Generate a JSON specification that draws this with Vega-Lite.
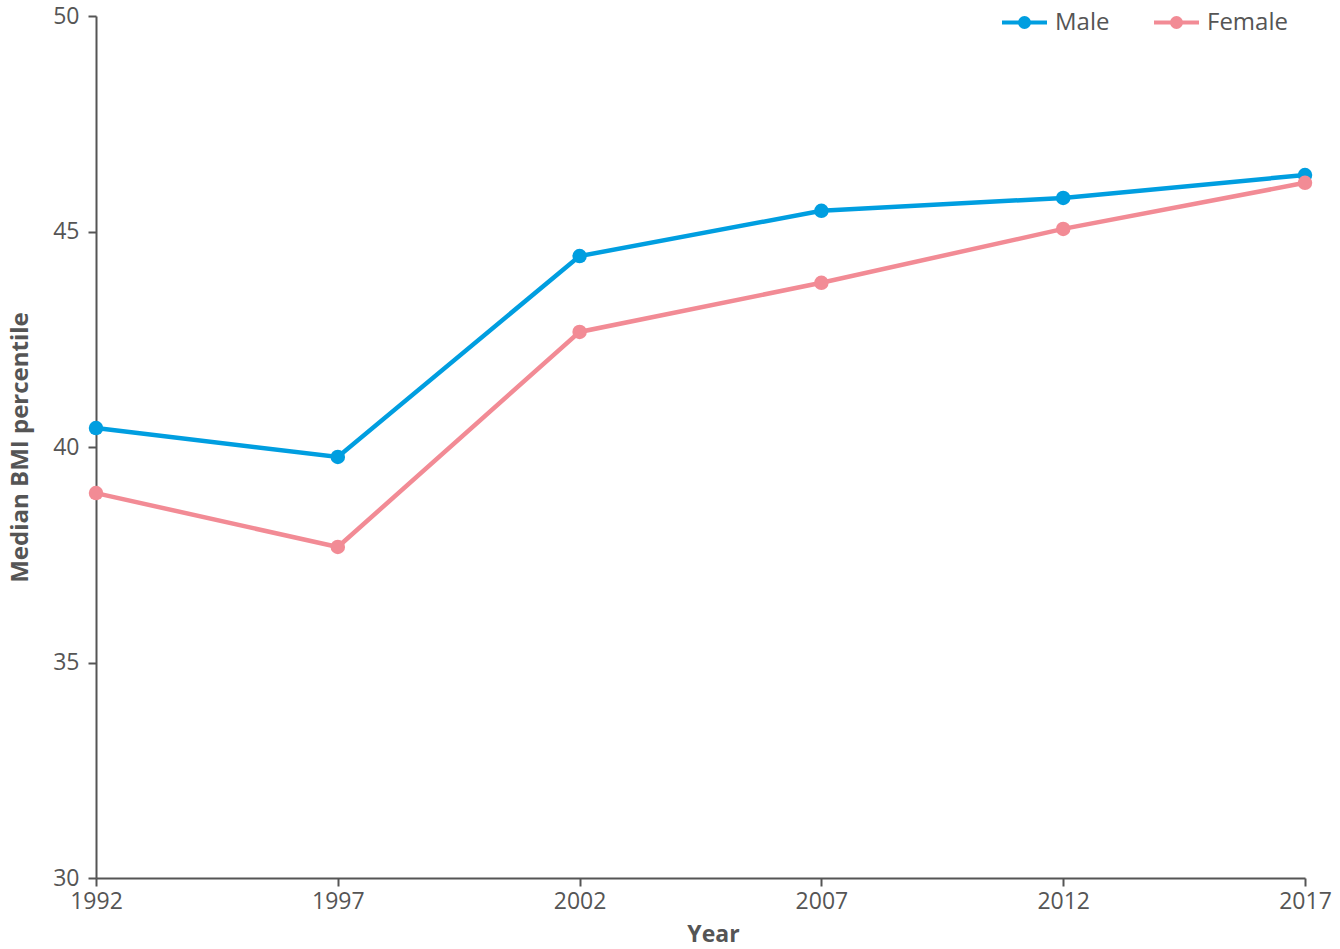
{
  "$schema": "https://vega.github.io/schema/vega-lite/v6.json",
  "width": 1209,
  "height": 862,
  "autosize": {"type": "none"},
  "padding": {"left": 96, "top": 16, "right": 35, "bottom": 71},
  "background": "white",
  "config": {
    "font": "Open Sans",
    "view": {"stroke": null},
    "axis": {"grid": false, "domainColor": "#555", "domainWidth": 2, "tickColor": "#555", "tickWidth": 2, "tickSize": 8, "labelColor": "#555", "labelFontSize": 23, "titleColor": "#555", "titleFontSize": 23, "titleFontWeight": "bold"}
  },
  "data": {
    "values": [
      {"year": 1992, "sex": "Male", "value": 40.44},
      {"year": 1997, "sex": "Male", "value": 39.77},
      {"year": 2002, "sex": "Male", "value": 44.43},
      {"year": 2007, "sex": "Male", "value": 45.48},
      {"year": 2012, "sex": "Male", "value": 45.78},
      {"year": 2017, "sex": "Male", "value": 46.31},
      {"year": 1992, "sex": "Female", "value": 38.93},
      {"year": 1997, "sex": "Female", "value": 37.68},
      {"year": 2002, "sex": "Female", "value": 42.67},
      {"year": 2007, "sex": "Female", "value": 43.81},
      {"year": 2012, "sex": "Female", "value": 45.06},
      {"year": 2017, "sex": "Female", "value": 46.13}
    ]
  },
  "mark": {"type": "line", "strokeWidth": 4.5, "point": {"size": 210, "filled": true, "opacity": 1}},
  "encoding": {
    "x": {"field": "year", "type": "quantitative", "title": "Year",
      "scale": {"domain": [1992, 2017], "nice": false, "zero": false},
      "axis": {"values": [1992, 1997, 2002, 2007, 2012, 2017], "format": "d", "labelFlush": false, "labelPadding": 4, "titlePadding": 10, "titleX": 617}},
    "y": {"field": "value", "type": "quantitative", "title": "Median BMI percentile",
      "scale": {"domain": [30, 50], "nice": false, "zero": false},
      "axis": {"values": [30, 35, 40, 45, 50], "labelPadding": 9, "titlePadding": 20, "titleFontSize": 24}},
    "color": {"field": "sex", "type": "nominal", "sort": ["Male", "Female"],
      "scale": {"domain": ["Male", "Female"], "range": ["#009EE0", "#F28B95"]},
      "legend": {"title": null, "orient": "none", "legendX": 904, "legendY": -18, "direction": "horizontal",
        "symbolType": "M-1,0L1,0M-0.2,0A0.2,0.2 0 1,0 0.2,0A0.2,0.2 0 1,0 -0.2,0Z",
        "labelFontSize": 24, "labelColor": "#555", "symbolSize": 2025, "symbolStrokeWidth": 4, "columnPadding": 36, "labelOffset": 6,
        "encode": {"symbols": {"update": {"fill": {"scale": "color", "field": "value"}, "fillOpacity": {"value": 1}}}}}}
  }
}
